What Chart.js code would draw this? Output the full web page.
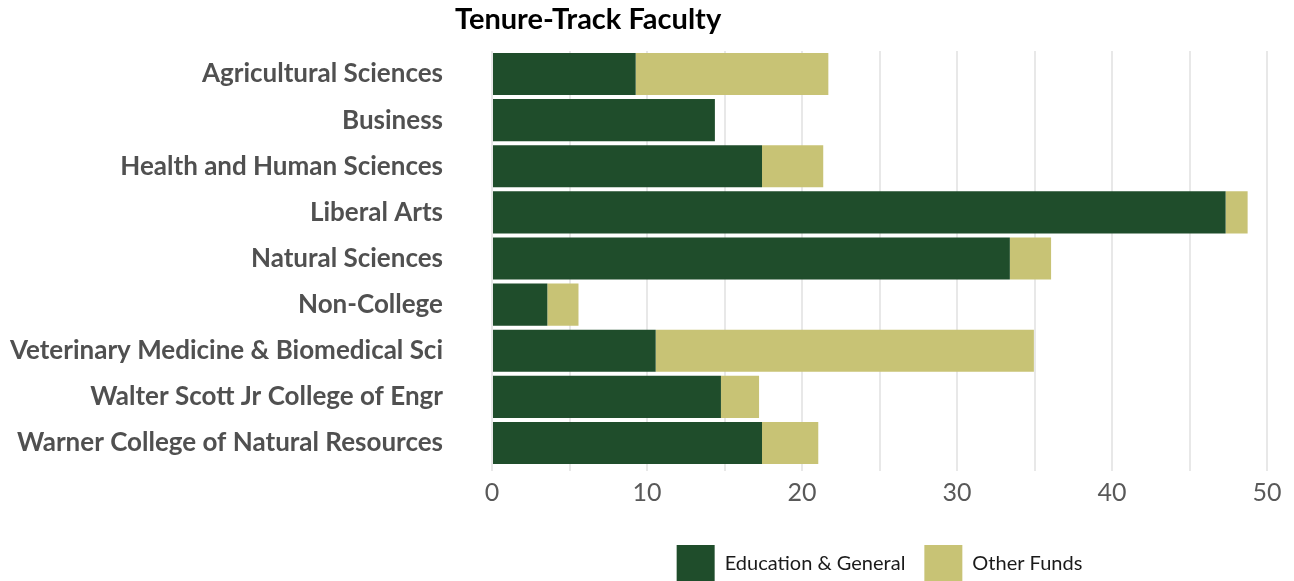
<!DOCTYPE html>
<html>
<head>
<meta charset="utf-8">
<title>Tenure-Track Faculty</title>
<script src="https://cdn.jsdelivr.net/npm/chart.js@4/dist/chart.umd.min.js"></script>
<style>
  html, body { margin: 0; padding: 0; background: #ffffff; overflow: hidden; }
  #wrap { position: relative; width: 1294px; height: 581px; overflow: hidden; }
  #chart { display: block; }
</style>
</head>
<body>
<div id="wrap"><canvas id="chart" width="1294" height="593"></canvas></div>
<script>
// Colleges (top to bottom) and faculty FTE by funding source
const colleges = [
  "Agricultural Sciences",
  "Business",
  "Health and Human Sciences",
  "Liberal Arts",
  "Natural Sciences",
  "Non-College",
  "Veterinary Medicine & Biomedical Sci",
  "Walter Scott Jr College of Engr",
  "Warner College of Natural Resources"
];
const educationGeneral = [9.27, 14.38, 17.42, 47.33, 33.41, 3.57, 10.56, 14.77, 17.42];
const otherFunds       = [12.43, 0,    3.95,  1.42,  2.66,  2.01, 24.40, 2.46,  3.63];
const seriesNames = ["Education & General", "Other Funds"];
const xTicks = [0, 10, 20, 30, 40, 50];
const chartTitle = "Tenure-Track Faculty";

const GREEN = "#1f4d2b";
const TAN = "#c8c375";

// Title drawn at the top-left, above the category labels
const titlePlugin = {
  id: "leftTitle",
  afterDraw(chart) {
    const ctx = chart.ctx;
    ctx.save();
    ctx.font = "bold 29px Lato, 'Open Sans', sans-serif";
    ctx.fillStyle = "#000000";
    ctx.textAlign = "left";
    ctx.textBaseline = "alphabetic";
    ctx.fillText(chartTitle, 455, 29);
    ctx.restore();
  }
};

new Chart(document.getElementById("chart"), {
  type: "bar",
  data: {
    labels: colleges,
    datasets: [
      { label: seriesNames[0], data: educationGeneral, backgroundColor: GREEN },
      { label: seriesNames[1], data: otherFunds, backgroundColor: TAN }
    ]
  },
  options: {
    indexAxis: "y",
    responsive: false,
    animation: false,
    devicePixelRatio: 1,
    layout: { padding: { top: 51, right: 27, left: 0, bottom: 0 } },
    datasets: { bar: { barPercentage: 0.913, categoryPercentage: 1.0, borderWidth: 0 } },
    scales: {
      x: {
        stacked: true,
        min: 0,
        max: 50,
        afterFit(scale) {
          scale.height = 60;
          scale.paddingLeft = 0;
          scale.paddingRight = 0;
        },
        afterBuildTicks(scale) {
          scale.ticks = [];
          for (let v = 0; v <= 50; v += 5) scale.ticks.push({ value: v });
        },
        ticks: {
          autoSkip: false,
          maxRotation: 0,
          padding: 7,
          color: "#595959",
          font: { family: "Lato, sans-serif", size: 25 },
          callback: (v) => (xTicks.includes(v) ? String(v) : "")
        },
        grid: { color: "#e8e8e8", lineWidth: 2, drawTicks: true, tickLength: 5 },
        border: { display: false }
      },
      y: {
        stacked: true,
        afterFit(scale) {
          scale.width = 492;
          scale.paddingTop = 0;
          scale.paddingBottom = 0;
        },
        ticks: {
          padding: 49,
          color: "#505050",
          font: { family: "Lato, 'Open Sans', sans-serif", size: 26, weight: "bold" }
        },
        grid: { display: false, drawTicks: false },
        border: { display: false }
      }
    },
    plugins: {
      legend: {
        position: "bottom",
        fullSize: false,
        labels: {
          boxWidth: 38,
          boxHeight: 38,
          padding: 19,
          color: "#1a1a1a",
          font: { family: "Lato, 'Open Sans', sans-serif", size: 20 }
        }
      },
      title: { display: false },
      tooltip: { enabled: false }
    }
  },
  plugins: [titlePlugin]
});
</script>
</body>
</html>
